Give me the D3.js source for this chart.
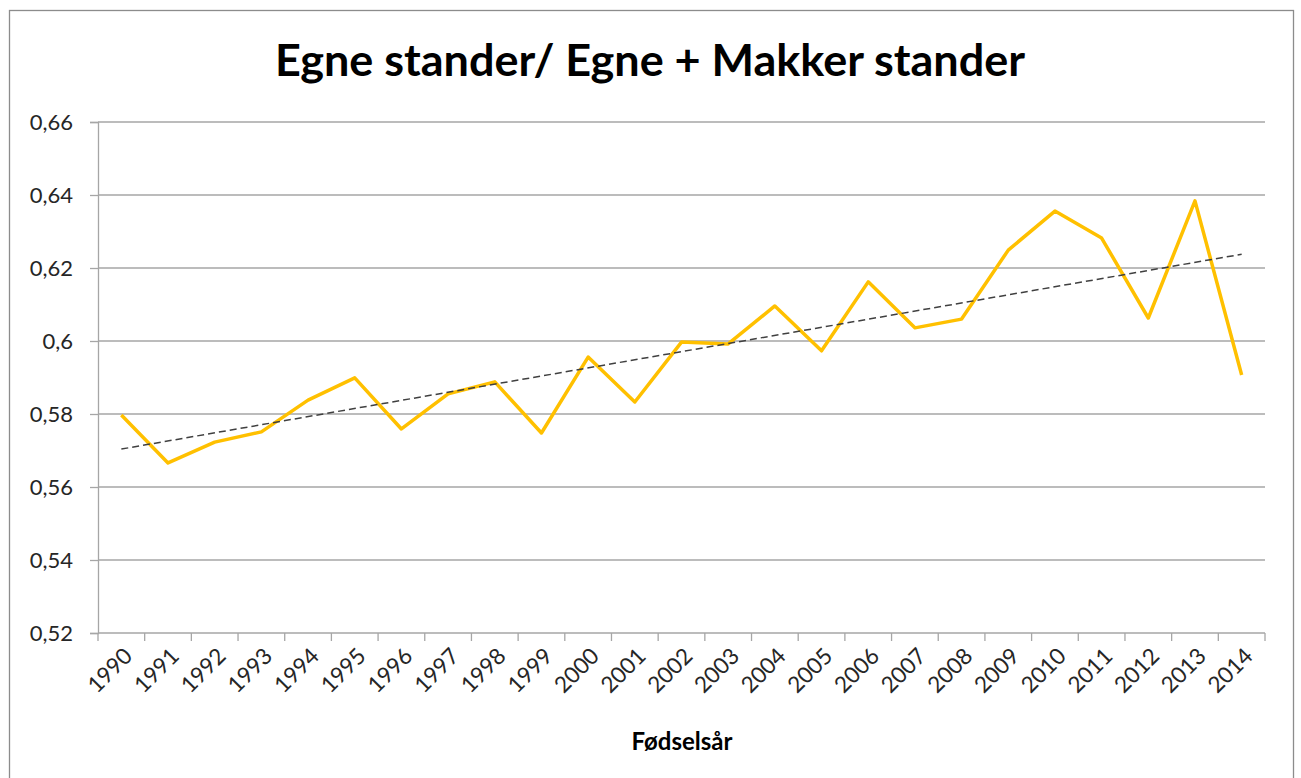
<!DOCTYPE html>
<html>
<head>
<meta charset="utf-8">
<script src="https://cdn.jsdelivr.net/npm/d3@7"></script>
<style>
  body { margin: 0; background: #fff; }
  svg { display: block; }
</style>
</head>
<body>
<svg id="chart" width="1301" height="778"></svg>
<script>
// data
const years = ["1990","1991","1992","1993","1994","1995","1996","1997","1998","1999",
  "2000","2001","2002","2003","2004","2005","2006","2007","2008","2009",
  "2010","2011","2012","2013","2014"];
const ratio = [0.5797,0.5666,0.5723,0.5751,0.5838,0.5899,0.5759,0.5855,0.5888,0.5748,
  0.5956,0.5833,0.5997,0.5992,0.6096,0.5973,0.6162,0.6036,0.6060,0.6249,
  0.6356,0.6282,0.6063,0.6384,0.5907];
const yTicks = [0.52,0.54,0.56,0.58,0.60,0.62,0.64,0.66];
const yTickLabels = ["0,52","0,54","0,56","0,58","0,6","0,62","0,64","0,66"];

const svg = d3.select('#chart');
const m = {left: 98, right: 1265, top: 122, bottom: 633};

// outer frame
svg.append('rect')
  .attr('x', 9.5).attr('y', 10.5)
  .attr('width', 1284).attr('height', 775)
  .attr('fill', 'none').attr('stroke', '#8c8c8c').attr('stroke-width', 1.3);

const x = d3.scaleBand().domain(years).range([m.left, m.right]);
const y = d3.scaleLinear().domain([0.52, 0.66]).range([m.bottom, m.top]);

// gridlines
svg.append('g').selectAll('line')
  .data(yTicks.slice(1))
  .enter().append('line')
  .attr('x1', m.left).attr('x2', m.right)
  .attr('y1', d => y(d)).attr('y2', d => y(d))
  .attr('stroke', '#a6a6a6').attr('stroke-width', 1.3);

// y axis
const yAxis = svg.append('g')
  .attr('transform', `translate(${m.left},0)`)
  .call(d3.axisLeft(y).tickValues(yTicks).tickSize(8).tickPadding(17)
    .tickFormat((d, i) => yTickLabels[i]));
yAxis.select('.domain').attr('stroke', '#a6a6a6').attr('stroke-width', 1.3);
yAxis.selectAll('.tick line').attr('stroke', '#a6a6a6').attr('stroke-width', 1.3);
yAxis.selectAll('.tick text')
  .attr('font-family', 'Lato, "Open Sans", sans-serif')
  .attr('font-size', 22).attr('fill', '#262626');

// x axis: ticks at category boundaries
const xg = svg.append('g');
xg.append('line')
  .attr('x1', m.left).attr('x2', m.right)
  .attr('y1', m.bottom).attr('y2', m.bottom)
  .attr('stroke', '#a6a6a6').attr('stroke-width', 1.3);
xg.selectAll('line.tk')
  .data(years.concat(['end']))
  .enter().append('line').attr('class', 'tk')
  .attr('x1', d => d === 'end' ? m.right : x(d))
  .attr('x2', d => d === 'end' ? m.right : x(d))
  .attr('y1', m.bottom).attr('y2', m.bottom + 8)
  .attr('stroke', '#a6a6a6').attr('stroke-width', 1.3);
xg.selectAll('text')
  .data(years)
  .enter().append('text')
  .attr('transform', d => `translate(${x(d) + x.bandwidth() / 2 + 1},${m.bottom + 13}) rotate(-45)`)
  .attr('text-anchor', 'end')
  .attr('dy', '0.72em')
  .attr('font-family', 'Lato, "Open Sans", sans-serif')
  .attr('font-size', 22.5).attr('fill', '#262626')
  .text(d => d);

// data line
const cx = d => x(d) + x.bandwidth() / 2;
svg.append('path')
  .datum(years.map((d, i) => [d, ratio[i]]))
  .attr('fill', 'none').attr('stroke', '#ffc000').attr('stroke-width', 3.5)
  .attr('stroke-linejoin', 'round')
  .attr('d', d3.line().x(d => cx(d[0])).y(d => y(d[1])));

// linear trendline (least squares)
const n = ratio.length;
const xs = d3.range(n);
const mx = d3.mean(xs), my = d3.mean(ratio);
const slope = d3.sum(xs, i => (i - mx) * (ratio[i] - my)) / d3.sum(xs, i => (i - mx) * (i - mx));
const icpt = my - slope * mx;
svg.append('line')
  .attr('x1', cx(years[0])).attr('y1', y(icpt))
  .attr('x2', cx(years[n - 1])).attr('y2', y(icpt + slope * (n - 1)))
  .attr('stroke', '#404040').attr('stroke-width', 1.5)
  .attr('stroke-dasharray', '7,4');

// title
svg.append('text')
  .attr('x', 650).attr('y', 76)
  .attr('text-anchor', 'middle')
  .attr('font-family', 'Lato, "Open Sans", sans-serif')
  .attr('font-weight', 'bold').attr('font-size', 44)
  .attr('textLength', 750).attr('lengthAdjust', 'spacingAndGlyphs')
  .text('Egne stander/ Egne + Makker stander');

// axis title
svg.append('text')
  .attr('x', 682).attr('y', 750)
  .attr('text-anchor', 'middle')
  .attr('font-family', 'Lato, "Open Sans", sans-serif')
  .attr('font-weight', 'bold').attr('font-size', 24)
  .text('Fødselsår');
</script>
</body>
</html>
